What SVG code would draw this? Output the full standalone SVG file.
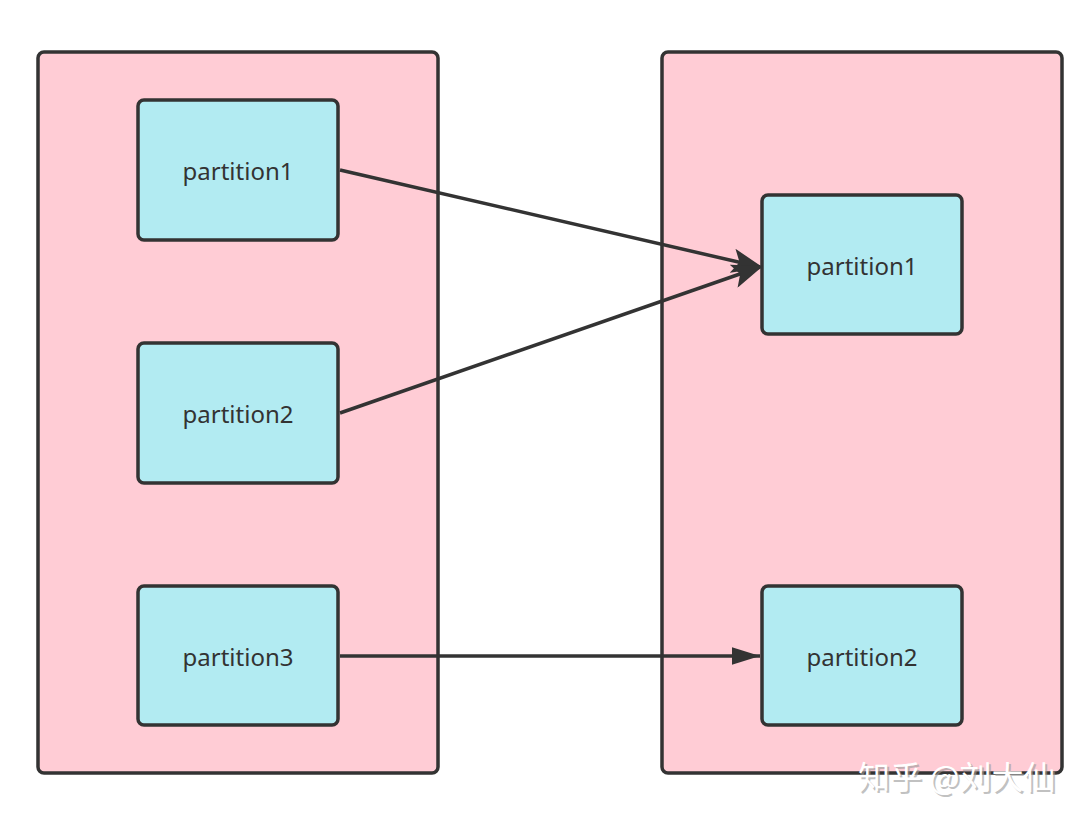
<svg xmlns="http://www.w3.org/2000/svg" width="1092" height="824" viewBox="0 0 1092 824">
<style>
.outer{fill:#FFCCD5;stroke:#333;stroke-width:3.5}
.inner{fill:#B2EBF2;stroke:#333;stroke-width:3.5}
.lbl{font-family:"Noto Sans","Open Sans",sans-serif;font-size:24px;fill:#333;text-anchor:middle;dominant-baseline:central}
.conn{stroke:#333;stroke-width:3.5;fill:none}
.wm{font-family:"Noto Sans CJK SC",sans-serif;font-size:32px;fill:#fff}
</style>
<defs>
<marker id="ah" markerWidth="9" markerHeight="7" refX="8" refY="3.5" orient="auto" markerUnits="strokeWidth">
<path d="M0,0 L9,3.5 L0,7 L2,3.5 Z" fill="#333"/>
</marker>
<marker id="ah2" markerWidth="8" markerHeight="5" refX="8" refY="2.5" orient="auto" markerUnits="strokeWidth">
<path d="M0,0 L8,2.5 L0,5 Z" fill="#333"/>
</marker>
</defs>
<rect width="1092" height="824" fill="#fff"/>
<g id="left-group"><rect class="outer" x="38" y="52" width="400" height="721" rx="6"/></g>
<g id="right-group"><rect class="outer" x="662" y="52" width="400" height="721" rx="6"/></g>
<g id="l-p1"><rect class="inner" x="138" y="100" width="200" height="140" rx="6"/><text class="lbl" x="238" y="170">partition1</text></g>
<g id="l-p2"><rect class="inner" x="138" y="343" width="200" height="140" rx="6"/><text class="lbl" x="238" y="413">partition2</text></g>
<g id="l-p3"><rect class="inner" x="138" y="586" width="200" height="139" rx="6"/><text class="lbl" x="238" y="656">partition3</text></g>
<g id="r-p1"><rect class="inner" x="762" y="195" width="200" height="139" rx="6"/><text class="lbl" x="862" y="265">partition1</text></g>
<g id="r-p2"><rect class="inner" x="762" y="586" width="200" height="139" rx="6"/><text class="lbl" x="862" y="656">partition2</text></g>
<g id="connectors">
<line class="conn" x1="340" y1="170" x2="760" y2="267" marker-end="url(#ah)"/>
<line class="conn" x1="340" y1="413" x2="760" y2="267" marker-end="url(#ah)"/>
<line class="conn" x1="340" y1="656" x2="760" y2="656" marker-end="url(#ah2)"/>
</g>
<g id="watermark">
<text x="860" y="791" font-family="Noto Sans CJK SC,sans-serif" font-size="32" fill="#999" opacity="0.6">知乎 @刘大仙</text>
<text class="wm" x="858" y="789">知乎 @刘大仙</text>
</g>
</svg>
